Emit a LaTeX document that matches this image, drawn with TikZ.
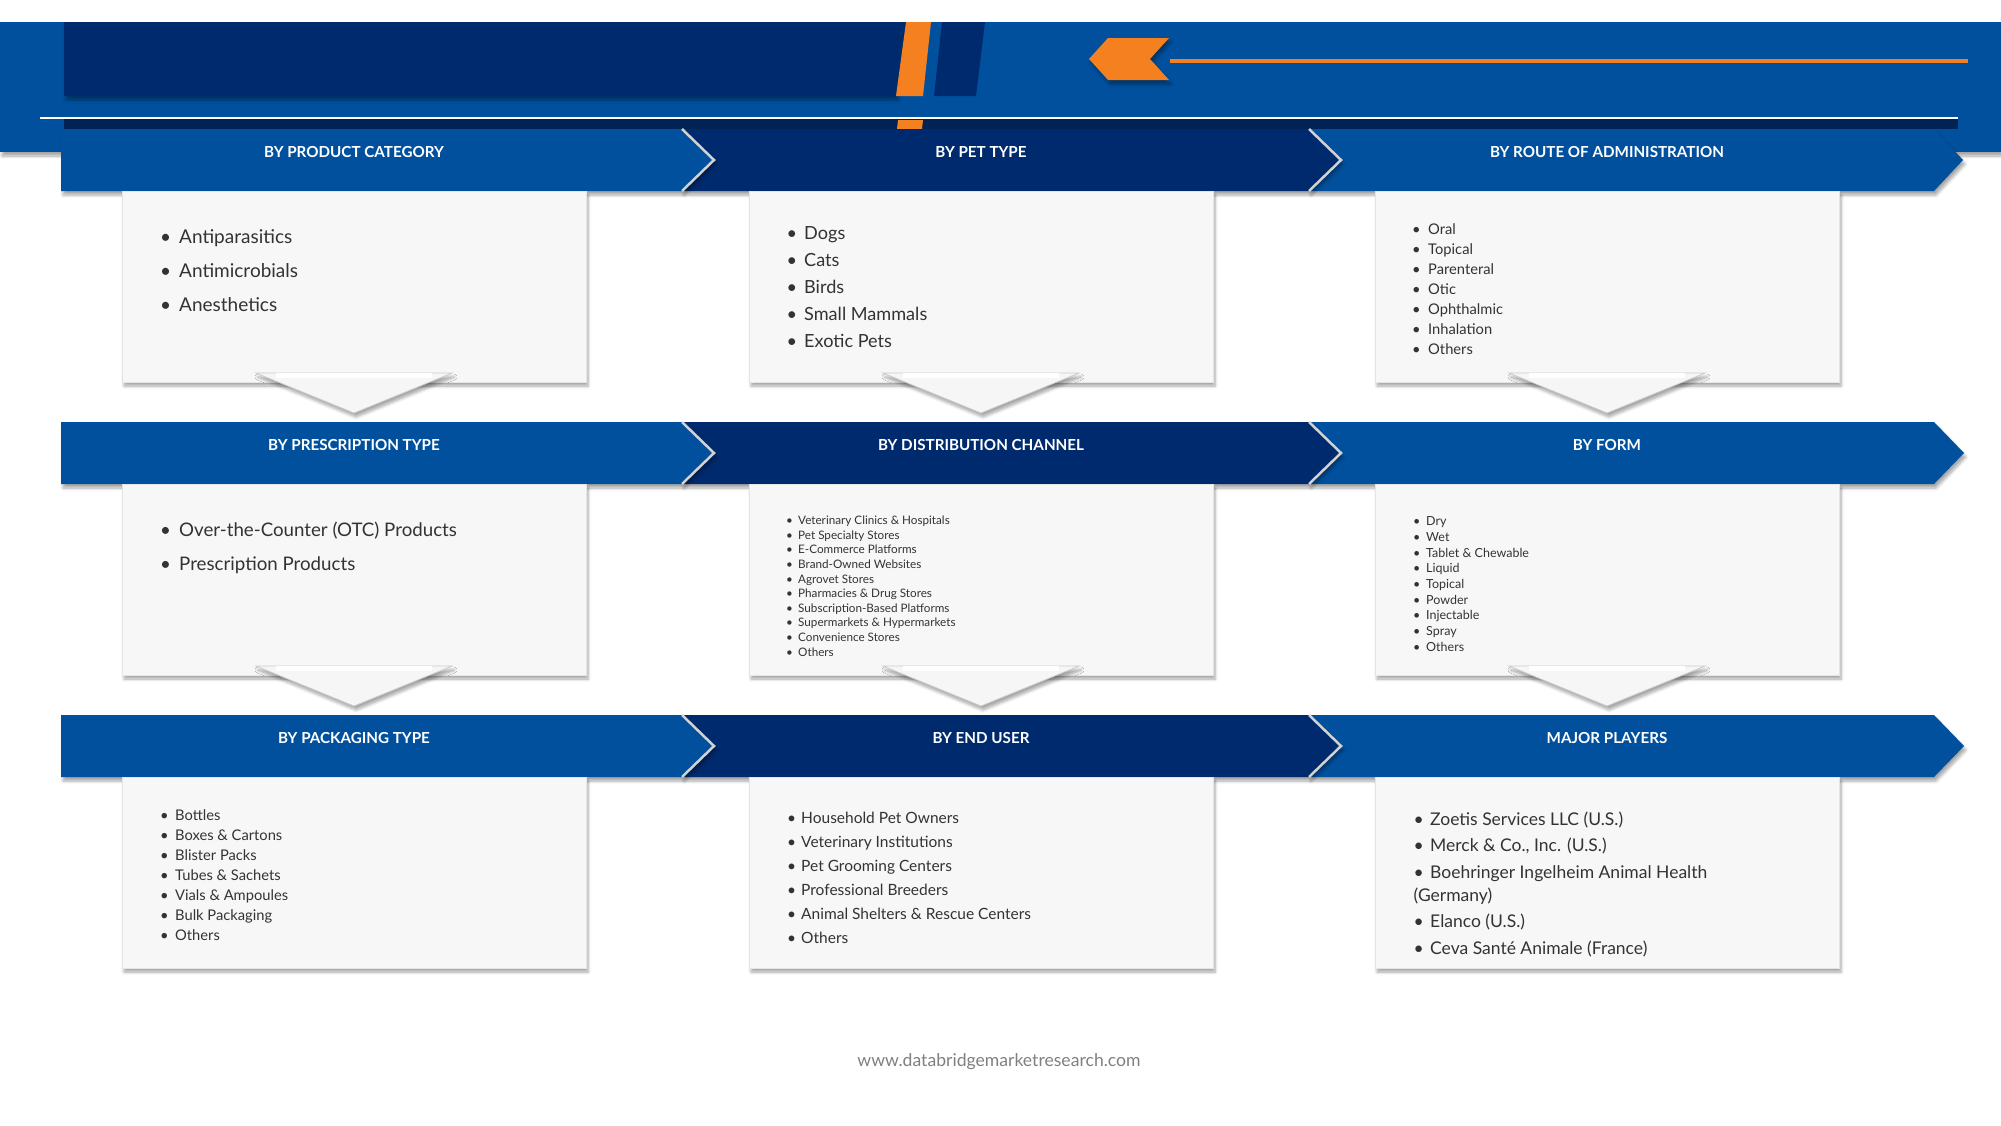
\documentclass[tikz,border=0pt]{standalone}
\usepackage{fontspec}
\setmainfont{Lato}
\usetikzlibrary{shadows,shadows.blur,positioning}
\definecolor{dbblue}{RGB}{0,80,158}
\definecolor{dbnavy}{RGB}{0,42,110}
\definecolor{dbdark}{RGB}{0,34,84}
\definecolor{dborange}{RGB}{244,128,32}
\definecolor{dbbox}{RGB}{247,247,247}
\definecolor{dbtext}{RGB}{51,51,51}
\newcommand{\bul}[1]{\makebox[#1][l]{\textbullet}}
\tikzset{
  segshadow/.style={blur shadow={shadow xshift=2pt, shadow yshift=-4pt, shadow blur radius=3pt, shadow blur steps=6, shadow opacity=35}},
  segedge/.style={draw=gray!35, line width=2.5pt, line join=miter},
  segbox/.style={rectangle, fill=dbbox, draw=gray!20, line width=0.6pt, minimum width=464pt, minimum height=191pt, inner sep=0, segshadow},
  segtitle/.style={text=white, inner sep=0, font=\fontsize{15.2}{18}\selectfont\bfseries},
  seglist/.style={anchor=north west, align=left, inner sep=0, text=dbtext},
  segpointer/.style={fill=gray!7, draw=gray!40, line width=0.8pt, segshadow},
}
\begin{document}
\begin{tikzpicture}[x=1pt, y=-1pt]
\useasboundingbox (0,0) rectangle (2001,1125);
% header band
\fill[dbblue, segshadow] (0,22) rectangle (2001,152);
\fill[dbnavy, segshadow] (64,22) -- (906,22) -- (896,96) -- (64,96) -- cycle;
\fill[dborange] (906,22) -- (931,22) -- (923,96) -- (896,96) -- cycle;
\fill[dbnavy] (942,22) -- (985,22) -- (976,96) -- (934,96) -- cycle;
\fill[dborange, segshadow] (1169,38) -- (1108,38) -- (1089,59) -- (1108,80) -- (1169,80) -- (1150,59) -- cycle;
\draw[dborange, line width=4.5pt] (1170,61) -- (1968,61);
\fill[dbdark] (64,119) rectangle (1958,129);
\fill[dborange] (898,120) -- (923,120) -- (922,129) -- (897,129) -- cycle;
\draw[white, line width=2pt] (40,118) -- (1958,118);
% 1st row
\fill[dbblue, segshadow] (1309,129) -- (1934,129) -- (1963,160) -- (1934,191) -- (1309,191) -- cycle;
\fill[dbnavy, segshadow] (682,129) -- (1309,129) -- (1341,160) -- (1309,191) -- (682,191) -- cycle;
\draw[segedge] (1309,129) -- (1341,160) -- (1309,191);
\fill[dbblue, segshadow] (61,129) -- (682,129) -- (714,160) -- (682,191) -- (61,191) -- cycle;
\draw[segedge] (682,129) -- (714,160) -- (682,191);
\node[segtitle] (t11) at (354,152.3) {BY PRODUCT CATEGORY};
\node[segtitle] (t12) at (981,152.3) {BY PET TYPE};
\node[segtitle] (t13) at (1607,152.3) {BY ROUTE OF ADMINISTRATION};
\node[segbox] (b11) at (354,286.5) {};
\node[segbox] (b12) at (981,286.5) {};
\node[segbox] (b13) at (1607,286.5) {};
\node[seglist, font=\fontsize{19}{34}\selectfont] (l11) at (160,229.7)
  {\bul{19pt}Antiparasitics\\\bul{19pt}Antimicrobials\\\bul{19pt}Anesthetics};
\node[seglist, font=\fontsize{18.1}{26.8}\selectfont] (l12) at (786.5,226.8)
  {\bul{17.5pt}Dogs\\\bul{17.5pt}Cats\\\bul{17.5pt}Birds\\\bul{17.5pt}Small Mammals\\\bul{17.5pt}Exotic Pets};
\node[seglist, font=\fontsize{14.7}{20}\selectfont] (l13) at (1412,223.5)
  {\bul{16pt}Oral\\\bul{16pt}Topical\\\bul{16pt}Parenteral\\\bul{16pt}Otic\\\bul{16pt}Ophthalmic\\\bul{16pt}Inhalation\\\bul{16pt}Others};
\foreach \cx in {354,981,1607}{
  \fill[segpointer] (\cx-98,373) -- (\cx+98,373) -- (\cx,413) -- cycle;
  \fill[white] (\cx-78,373) rectangle (\cx+78,378);
}
% 2nd row
\fill[dbblue, segshadow] (1309,422) -- (1934,422) -- (1964,453) -- (1934,484) -- (1309,484) -- cycle;
\fill[dbnavy, segshadow] (682,422) -- (1309,422) -- (1341,453) -- (1309,484) -- (682,484) -- cycle;
\draw[segedge] (1309,422) -- (1341,453) -- (1309,484);
\fill[dbblue, segshadow] (61,422) -- (682,422) -- (714,453) -- (682,484) -- (61,484) -- cycle;
\draw[segedge] (682,422) -- (714,453) -- (682,484);
\node[segtitle] (t21) at (354,445.3) {BY PRESCRIPTION TYPE};
\node[segtitle] (t22) at (981,445.3) {BY DISTRIBUTION CHANNEL};
\node[segtitle] (t23) at (1607,445.3) {BY FORM};
\node[segbox] (b21) at (354,579.5) {};
\node[segbox] (b22) at (981,579.5) {};
\node[segbox] (b23) at (1607,579.5) {};
\node[seglist, font=\fontsize{18.7}{34.5}\selectfont] (l21) at (160,521.5)
  {\bul{19pt}Over-the-Counter (OTC) Products\\\bul{19pt}Prescription Products};
\node[seglist, font=\fontsize{11.7}{14.6}\selectfont] (l22) at (786,515.9)
  {\bul{12pt}Veterinary Clinics \& Hospitals\\\bul{12pt}Pet Specialty Stores\\\bul{12pt}E-Commerce Platforms\\\bul{12pt}Brand-Owned Websites\\\bul{12pt}Agrovet Stores\\\bul{12pt}Pharmacies \& Drug Stores\\\bul{12pt}Subscription-Based Platforms\\\bul{12pt}Supermarkets \& Hypermarkets\\\bul{12pt}Convenience Stores\\\bul{12pt}Others};
\node[seglist, font=\fontsize{12.5}{15.7}\selectfont] (l23) at (1413,516.5)
  {\bul{13pt}Dry\\\bul{13pt}Wet\\\bul{13pt}Tablet \& Chewable\\\bul{13pt}Liquid\\\bul{13pt}Topical\\\bul{13pt}Powder\\\bul{13pt}Injectable\\\bul{13pt}Spray\\\bul{13pt}Others};
\foreach \cx in {354,981,1607}{
  \fill[segpointer] (\cx-98,666) -- (\cx+98,666) -- (\cx,706) -- cycle;
  \fill[white] (\cx-78,666) rectangle (\cx+78,671);
}
% 3rd row
\fill[dbblue, segshadow] (1309,715) -- (1934,715) -- (1964,746) -- (1934,777) -- (1309,777) -- cycle;
\fill[dbnavy, segshadow] (682,715) -- (1309,715) -- (1341,746) -- (1309,777) -- (682,777) -- cycle;
\draw[segedge] (1309,715) -- (1341,746) -- (1309,777);
\fill[dbblue, segshadow] (61,715) -- (682,715) -- (714,746) -- (682,777) -- (61,777) -- cycle;
\draw[segedge] (682,715) -- (714,746) -- (682,777);
\node[segtitle] (t31) at (354,738.3) {BY PACKAGING TYPE};
\node[segtitle] (t32) at (981,738.3) {BY END USER};
\node[segtitle] (t33) at (1607,738.3) {MAJOR PLAYERS};
\node[segbox] (b31) at (354,872.5) {};
\node[segbox] (b32) at (981,872.5) {};
\node[segbox] (b33) at (1607,872.5) {};
\node[seglist, font=\fontsize{14.7}{20}\selectfont] (l31) at (160,809.5)
  {\bul{15pt}Bottles\\\bul{15pt}Boxes \& Cartons\\\bul{15pt}Blister Packs\\\bul{15pt}Tubes \& Sachets\\\bul{15pt}Vials \& Ampoules\\\bul{15pt}Bulk Packaging\\\bul{15pt}Others};
\node[seglist, font=\fontsize{15.5}{24}\selectfont] (l32) at (787,811.7)
  {\bul{14pt}Household Pet Owners\\\bul{14pt}Veterinary Institutions\\\bul{14pt}Pet Grooming Centers\\\bul{14pt}Professional Breeders\\\bul{14pt}Animal Shelters \& Rescue Centers\\\bul{14pt}Others};
\node[seglist, font=\fontsize{17.5}{23}\selectfont] (l33) at (1413.5,811.5)
  {\bul{16.5pt}Zoetis Services LLC (U.S.)\\[3.5pt]\bul{16.5pt}Merck \& Co., Inc. (U.S.)\\[3.5pt]\bul{16.5pt}Boehringer Ingelheim Animal Health\\(Germany)\\[3.5pt]\bul{16.5pt}Elanco (U.S.)\\[3.5pt]\bul{16.5pt}Ceva Santé Animale (France)};
% footer
\node[font=\fontsize{17.6}{20}\selectfont, text=black!50] (url) at (999,1061.5) {www.databridgemarketresearch.com};
\end{tikzpicture}
\end{document}
